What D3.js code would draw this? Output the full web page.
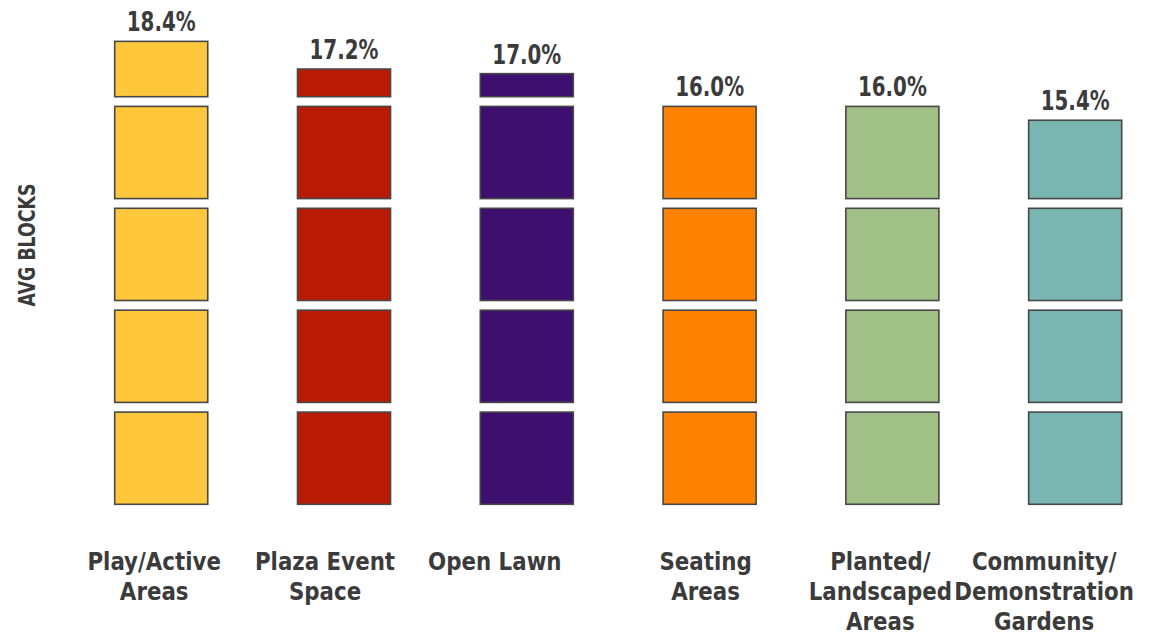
<!DOCTYPE html>
<html>
<head>
<meta charset="utf-8">
<script src="https://cdn.jsdelivr.net/npm/d3@7/dist/d3.min.js"></script>
<style>
  html, body { margin: 0; padding: 0; background: #ffffff; }
  svg { display: block; }
  text { font-family: "DejaVu Sans Condensed", "DejaVu Sans", "Liberation Sans", sans-serif; font-weight: bold; fill: #3b3b3b; }
</style>
</head>
<body>
<script>
// Share of space by use type (percent), drawn as stacked blocks of 4% each
const categories = [
  ["Play/Active", "Areas"],
  ["Plaza Event", "Space"],
  ["Open Lawn"],
  ["Seating", "Areas"],
  ["Planted/", "Landscaped", "Areas"],
  ["Community/", "Demonstration", "Gardens"]
];
const values = [18.4, 17.2, 17.0, 16.0, 16.0, 15.4];
const valueLabels = ["18.4%", "17.2%", "17.0%", "16.0%", "16.0%", "15.4%"];
const colors = ["#FFC83C", "#B81A04", "#3D0F6E", "#FF8200", "#A1C088", "#7AB6B1"];
const blockSize = 4;        // percent represented by one full block
const axisTitle = "AVG BLOCKS";

// Layout
const width = 1167, height = 637;
const baseY = 504.3;         // bottom edge of the lowest block
const pitch = 101.9;         // vertical distance between block rows
const gap = 9.7;             // white gap between stacked blocks
const labelShift = [-7, -19, -32, -4, -12, -31];
const squeezeValue = 0.85;   // horizontal condensing of the bold type
const squeezeCat = 0.95;

const svg = d3.select("body").append("svg")
  .attr("width", width).attr("height", height);

const x = d3.scaleBand()
  .domain(d3.range(values.length))
  .range([114.7, 1121.7])
  .paddingInner(0.491)
  .paddingOuter(0);

const y = d3.scaleLinear()
  .domain([0, blockSize * 5])
  .range([baseY, baseY - pitch * 5]);

const blockH = pitch - gap;

// Break each value into full blocks plus a partial top block
const blocks = [];
values.forEach((v, i) => {
  const n = Math.ceil(v / blockSize - 1e-9);
  for (let k = 0; k < n; k++) {
    const frac = Math.min(1, (v - k * blockSize) / blockSize);
    blocks.push({ i, k, frac });
  }
});

svg.append("g").selectAll("rect")
  .data(blocks)
  .join("rect")
  .attr("x", d => x(d.i))
  .attr("width", x.bandwidth())
  .attr("y", d => y(d.k * blockSize) - d.frac * blockH)
  .attr("height", d => d.frac * blockH)
  .attr("fill", d => colors[d.i])
  .attr("stroke", "#474747")
  .attr("stroke-width", 1.6);

// Value labels above each stack
function topOf(v) {
  const n = Math.ceil(v / blockSize - 1e-9);
  const frac = (v - (n - 1) * blockSize) / blockSize;
  return y((n - 1) * blockSize) - frac * blockH;
}
svg.append("g").selectAll("text")
  .data(values)
  .join("text")
  .attr("transform", (d, i) =>
    `translate(${x(i) + x.bandwidth() / 2},${topOf(d) - 10}) scale(${squeezeValue},1)`)
  .attr("text-anchor", "middle")
  .style("font-size", "26px")
  .text((d, i) => valueLabels[i]);

// Category labels
const catG = svg.append("g").selectAll("text")
  .data(categories)
  .join("text")
  .attr("transform", (d, i) =>
    `translate(${x(i) + x.bandwidth() / 2 + labelShift[i]},569.5) scale(${squeezeCat},1)`)
  .attr("text-anchor", "middle")
  .style("font-size", "25px");
catG.selectAll("tspan")
  .data(d => d)
  .join("tspan")
  .attr("x", 0)
  .attr("dy", (d, j) => j === 0 ? 0 : 30.5)
  .text(d => d);

// Vertical axis title
svg.append("text")
  .attr("transform", "translate(35,245) rotate(-90) scale(0.84,1)")
  .attr("text-anchor", "middle")
  .style("font-size", "23px")
  .text(axisTitle);
</script>
</body>
</html>
